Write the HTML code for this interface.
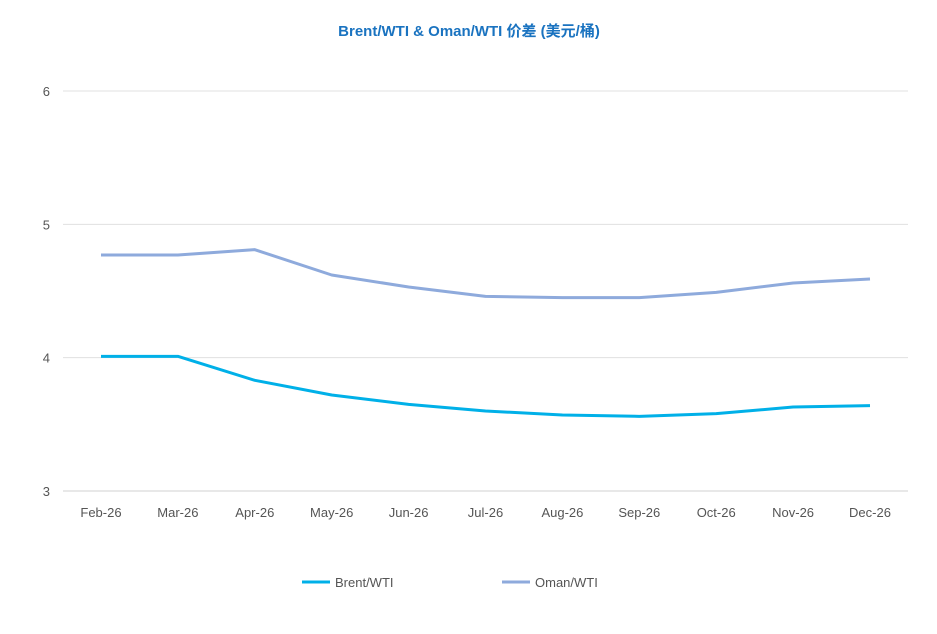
<!DOCTYPE html>
<html><head><meta charset="utf-8"><style>
body{margin:0;background:#fff;}
svg{display:block;font-family:"Liberation Sans","Noto Sans CJK SC",sans-serif;}
</style></head><body>
<svg id="chart" width="937" height="634">
<text x="469" y="36" text-anchor="middle" font-size="15" font-weight="bold" fill="#1a73c0">Brent/WTI &amp; Oman/WTI 价差 (美元/桶)</text>
<g id="grid"></g><g id="series"></g>
<g>
<line x1="302" y1="582" x2="330" y2="582" stroke="#00b0e8" stroke-width="3"/>
<text x="335" y="587" font-size="13" fill="#555">Brent/WTI</text>
<line x1="502" y1="582" x2="530" y2="582" stroke="#8eaadc" stroke-width="3"/>
<text x="535" y="587" font-size="13" fill="#555">Oman/WTI</text>
</g>
</svg>
<script>
const categories=["Feb-26","Mar-26","Apr-26","May-26","Jun-26","Jul-26","Aug-26","Sep-26","Oct-26","Nov-26","Dec-26"];
const brent=[4.01,4.01,3.83,3.72,3.65,3.60,3.57,3.56,3.58,3.63,3.64];
const oman=[4.77,4.77,4.81,4.62,4.53,4.46,4.45,4.45,4.49,4.56,4.59];
const yTicks=[3,4,5,6];
const NS="http://www.w3.org/2000/svg";
const x=i=>101+i*76.9;
const y=v=>491-(v-3)*133.33;
const grid=document.getElementById('grid'),ser=document.getElementById('series');
function mk(tag,attrs,parent){const e=document.createElementNS(NS,tag);for(const k in attrs)e.setAttribute(k,attrs[k]);parent.appendChild(e);return e;}
yTicks.forEach(t=>{
 const l=mk('line',{x1:63,x2:908,y1:y(t),y2:y(t),stroke:t===3?'#d0d0d0':'#e0e0e0','stroke-width':1},grid);
 
 
 const tx=mk('text',{x:50,y:y(t)+5,'text-anchor':'end','font-size':13,fill:'#555'},grid);tx.textContent=t;
 
 
});
categories.forEach((c,i)=>{
 const tx=mk('text',{x:x(i),y:517,'text-anchor':'middle','font-size':13,fill:'#555'},grid);tx.textContent=c;
 
 
});
function line(d,col,name){
 const p=mk('polyline',{points:d.map((v,i)=>x(i)+','+y(v)).join(' '),fill:'none',stroke:col,'stroke-width':3,'stroke-linejoin':'round'},ser);
 
 
}
line(oman,'#8eaadc','oman-wti-line');
line(brent,'#00b0e8','brent-wti-line');
</script>
</body></html>
